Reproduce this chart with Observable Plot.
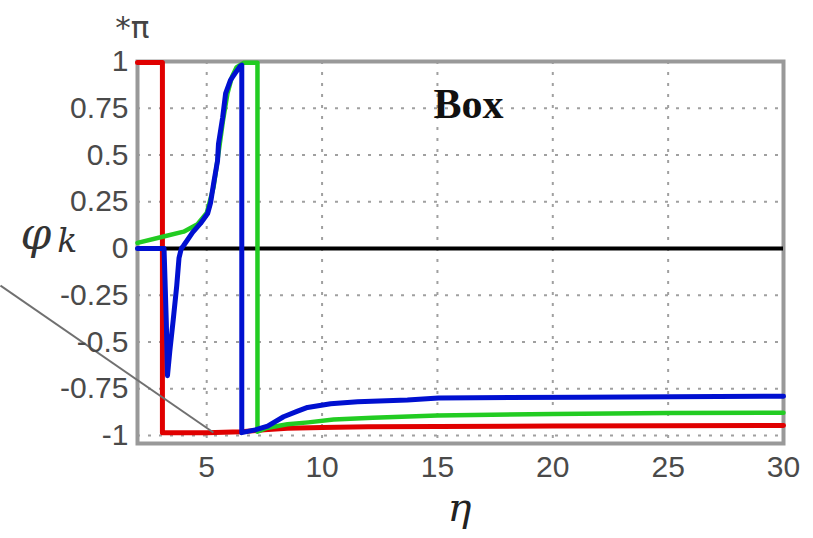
<!DOCTYPE html>
<html><head><meta charset="utf-8">
<script src="https://cdn.jsdelivr.net/npm/d3@7"></script>
<script src="https://cdn.jsdelivr.net/npm/@observablehq/plot@0.6"></script>
<style>body{margin:0;background:#fff;overflow:hidden}</style>
</head><body><div id="chart"></div>
<script>
const xTicks = [5, 10, 15, 20, 25, 30];
const xTickLabels = ["5", "10", "15", "20", "25", "30"];
const yTicks = [-1, -0.75, -0.5, -0.25, 0, 0.25, 0.5, 0.75, 1];
const yTickLabels = ["-1", "-0.75", "-0.5", "-0.25", "0", "0.25", "0.5", "0.75", "1"];

const redX = [2, 3.08, 3.08, 5, 6.5, 7.5, 8.5, 10, 12, 15, 20, 25, 30];
const redY = [0.995, 0.995, -0.985, -0.985, -0.98, -0.97, -0.962, -0.957, -0.954, -0.952, -0.95, -0.948, -0.947];

const greenX = [2, 3, 4, 4.6, 5.0, 5.3, 5.5, 5.7, 5.9, 6.1, 6.3, 6.6, 7.2, 7.2, 7.6, 8.5, 9.4, 10.5, 12.2, 15, 20, 25, 30];
const greenY = [0.03, 0.06, 0.09, 0.13, 0.19, 0.33, 0.5, 0.68, 0.83, 0.92, 0.97, 0.993, 0.993, -0.98, -0.96, -0.94, -0.93, -0.915, -0.905, -0.893, -0.885, -0.88, -0.878];

const blueX = [2, 3.15, 3.25, 3.3, 3.4, 3.55, 3.7, 3.8, 3.9, 4.0, 4.39, 4.73, 5.04, 5.17, 5.30, 5.47, 5.51, 5.69, 5.82, 6.03, 6.25, 6.45, 6.52, 6.52, 7.1, 7.64, 8.33, 8.94, 9.37, 10.37, 11.54, 13.7, 15.05, 21.2, 30];
const blueY = [0, 0, -0.4, -0.68, -0.55, -0.38, -0.2, -0.05, 0.0, 0.016, 0.086, 0.134, 0.187, 0.246, 0.348, 0.47, 0.56, 0.70, 0.83, 0.90, 0.94, 0.975, 0.98, -0.985, -0.97, -0.95, -0.9, -0.87, -0.85, -0.83, -0.82, -0.81, -0.80, -0.795, -0.79];

const pointerX = [-3.94, 5.29];
const pointerY = [-0.198, -0.984];

const series = (name, xs, ys) => xs.map((x, i) => ({name, x, y: ys[i]}));
const red = series("red", redX, redY);
const green = series("green", greenX, greenY);
const blue = series("blue", blueX, blueY);

const chart = Plot.plot({
  width: 813,
  height: 538,
  marginLeft: 137,
  marginRight: 30,
  marginTop: 61,
  marginBottom: 95,
  x: {domain: [2, 30]},
  y: {domain: [-1.043, 1]},
  style: {fontFamily: "'Liberation Sans', Arial, sans-serif", background: "#fff", overflow: "visible"},
  marks: [
    Plot.gridX(xTicks, {stroke: "#a0a0a0", strokeOpacity: 1, strokeWidth: 2, strokeDasharray: "3,8"}),
    Plot.gridY(yTicks, {stroke: "#a0a0a0", strokeOpacity: 1, strokeWidth: 2, strokeDasharray: "3,8"}),
    Plot.frame({stroke: "#999", strokeWidth: 4}),
    Plot.ruleY([0], {stroke: "#000", strokeWidth: 4}),
    Plot.line(red, {x: "x", y: "y", stroke: "#e00000", strokeWidth: 5}),
    Plot.line(green, {x: "x", y: "y", stroke: "#22cc22", strokeWidth: 4.5}),
    Plot.line(blue, {x: "x", y: "y", stroke: "#0010d0", strokeWidth: 5}),
    Plot.link({length: 1}, {x1: () => pointerX[0], y1: () => pointerY[0], x2: () => pointerX[1], y2: () => pointerY[1], stroke: "#707070", strokeWidth: 2}),
    Plot.axisX(xTicks, {tickSize: 0, tickPadding: 12, fontSize: 30, fill: "#4a4a4a", label: null,
      tickFormat: (d) => xTickLabels[xTicks.indexOf(d)]}),
    Plot.axisY(yTicks, {tickSize: 0, tickPadding: 9, fontSize: 30, fill: "#4a4a4a", label: null,
      tickFormat: (d) => yTickLabels[yTicks.indexOf(d)]}),
    Plot.text(["Box"], {x: 16.35, y: 0.77, fontFamily: "'Liberation Serif', 'Times New Roman', serif", fontWeight: "bold", fontSize: 42, fill: "#111"}),
    Plot.text(["*π"], {x: 1.78, y: 1.18, fontFamily: "'DejaVu Sans', sans-serif", fontSize: 31, fill: "#444"}),
    Plot.text(["φ"], {x: -2.4, y: 0.07, fontFamily: "'DejaVu Serif', serif", fontStyle: "italic", fontSize: 44, fill: "#333"}),
    Plot.text(["k"], {x: -1.05, y: 0.035, fontFamily: "'DejaVu Serif', serif", fontStyle: "italic", fontSize: 33, fill: "#333"}),
    Plot.text(["η"], {x: 15.96, y: -1.39, fontFamily: "'DejaVu Serif', serif", fontStyle: "italic", fontSize: 40, fill: "#222"})
  ]
});
document.getElementById("chart").appendChild(chart);
</script>
</body></html>
